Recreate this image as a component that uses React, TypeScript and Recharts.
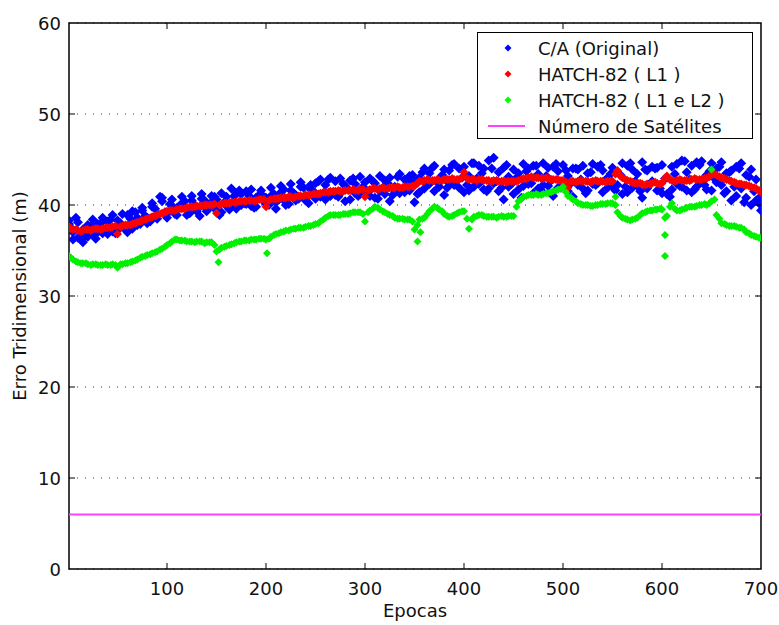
import React from 'react';
import { ScatterChart, Scatter, XAxis, YAxis, CartesianGrid, ReferenceArea, Legend } from 'recharts';

// ---------- data ----------
const EPOCHS = [1,5,10,15,20,25,30,35,40,45,50,55,60,65,70,75,80,85,90,95,100,105,110,115,120,125,130,135,140,145,150,155,160,165,170,175,180,185,190,195,200,205,210,215,220,225,230,235,240,245,250,255,260,265,270,275,280,285,290,295,300,305,310,315,320,325,330,335,340,345,350,355,360,365,370,375,380,385,390,395,400,405,410,415,420,425,430,435,440,445,450,455,460,465,470,475,480,485,490,495,500,505,510,515,520,525,530,535,540,545,550,555,560,565,570,575,580,585,590,595,600,605,610,615,620,625,630,635,640,645,650,655,660,665,670,675,680,685,690,695,700];
const EPOCHS_B = [3,8,13,18,23,28,33,38,43,48,53,58,63,68,73,78,83,88,93,98,103,108,113,118,123,128,133,138,143,148,153,158,163,168,173,178,183,188,193,198,203,208,213,218,223,228,233,238,243,248,253,258,263,268,273,278,283,288,293,298,303,308,313,318,323,328,333,338,343,348,353,358,363,368,373,378,383,388,393,398,403,408,413,418,423,428,433,438,443,448,453,458,463,468,473,478,483,488,493,498,503,508,513,518,523,528,533,538,543,548,553,558,563,568,573,578,583,588,593,598,603,608,613,618,623,628,633,638,643,648,653,658,663,668,673,678,683,688,693,698];

// C/A (Original)
const CA_A = [38.3,37.0,36.4,35.9,37.8,36.8,37.9,36.9,38.2,37.1,
38.3,37.6,38.9,37.4,38.6,39.4,38.0,39.8,38.5,40.8,
39.0,39.9,38.9,40.2,39.4,40.5,39.3,40.7,39.6,40.3,
40.6,39.2,40.9,39.8,41.3,40.0,41.5,39.9,40.8,41.2,
40.1,41.0,39.6,41.4,40.3,41.6,40.5,42.0,40.8,41.7,
42.4,40.9,42.2,41.0,42.6,41.3,42.1,40.6,42.3,41.2,
42.5,41.0,42.4,41.5,42.7,40.4,42.0,41.3,42.8,41.6,
40.3,43.0,41.8,43.5,41.5,42.9,41.1,43.8,42.2,44.0,
41.4,43.2,42.0,44.3,41.7,44.9,42.4,43.6,40.6,43.1,
41.2,43.5,42.1,44.0,41.3,43.4,42.2,44.1,41.0,43.7,
42.5,43.2,40.9,43.9,41.8,43.5,42.3,44.2,41.4,43.0,
42.0,43.6,41.2,44.3,41.9,43.4,40.8,43.8,42.6,44.1,
41.3,43.0,41.7,44.5,42.0,43.6,41.4,44.7,42.5,43.3,
41.6,44.0,42.2,43.5,40.5,44.2,41.8,43.3,40.0,42.8,
39.4];
const CA_B = [37.5,38.6,37.0,36.6,37.6,36.3,38.0,37.2,38.4,36.9,
38.0,37.3,38.5,39.2,37.9,38.8,38.2,39.6,40.9,39.2,
40.1,39.0,39.8,40.4,39.1,40.0,38.8,40.5,39.7,40.9,
38.9,40.3,39.5,41.0,41.6,40.2,41.0,39.7,41.1,40.4,
40.0,41.2,40.6,41.7,40.1,41.3,40.7,41.9,40.2,41.5,
42.6,41.2,42.8,41.4,40.9,42.3,41.7,42.9,41.0,42.0,
41.4,42.6,40.7,41.9,42.4,41.1,43.1,41.8,42.5,43.3,
41.2,43.6,42.3,44.1,42.5,43.3,41.9,44.4,42.7,43.0,
42.2,44.6,42.9,43.5,41.5,44.0,42.6,41.9,44.4,42.3,
43.0,40.8,43.7,42.4,44.3,41.6,43.2,42.7,44.5,41.9,
43.8,42.4,44.0,42.8,41.3,43.6,42.2,44.4,42.7,43.4,
41.6,43.3,42.0,44.6,42.6,41.5,43.9,42.3,44.0,41.8,
42.9,40.9,43.4,42.1,44.8,42.8,41.7,44.4,42.2,43.7,
42.9,44.2,41.3,43.6,42.0,44.0,40.3,43.1,41.5,40.2];
const CA_C = [37.9,36.2,38.1,37.3,36.5,38.4,37.0,38.6,36.8,38.9,
37.2,39.0,37.0,39.3,37.8,39.7,38.6,40.2,39.0,40.4,
38.6,40.6,39.7,40.9,38.9,41.0,39.5,41.2,39.3,41.0,
39.4,41.3,39.9,41.8,39.6,41.2,40.1,41.7,39.8,41.6,
40.8,41.9,40.3,42.1,40.0,42.3,41.1,42.5,40.5,42.2,
40.7,42.8,40.6,43.0,41.1,42.9,40.4,42.7,41.3,43.1,
41.1,42.9,40.8,43.2,41.2,43.0,41.6,43.4,41.4,43.2,
42.7,41.4,44.0,42.3,44.3,42.0,43.9,42.4,44.5,41.9,
44.2,41.6,44.6,42.3,44.0,41.8,45.2,41.5,44.1,42.0,
43.9,41.7,44.5,42.3,44.3,41.8,44.6,42.1,44.2,41.9,
44.4,41.5,44.0,42.2,44.3,41.6,44.5,42.4,43.8,41.9,
44.1,42.2,44.6,41.4,43.9,42.1,44.7,41.8,44.2,41.6,
44.4,41.2,44.2,42.3,44.9,41.6,44.3,42.0,44.8,41.7,
44.6,42.5,44.7,41.5,43.8,41.0,44.6,40.8,43.9,40.5,
41.0];

// HATCH-82 ( L1 )
const L1 = [37.6,37.3,37.2,37.2,37.3,37.3,37.4,37.4,37.5,37.6,
36.8,37.7,37.8,37.9,38.1,38.3,38.5,38.7,38.9,39.1,
39.3,39.4,39.5,39.6,39.7,39.8,39.9,39.9,40.0,40.0,
39.1,40.1,40.2,40.3,40.3,40.4,40.4,40.5,40.5,40.6,
39.8,40.6,40.7,40.8,40.8,40.9,40.9,41.0,41.1,41.1,
41.2,41.3,41.4,41.5,41.5,41.5,41.6,41.6,41.6,41.7,
40.9,41.7,41.8,41.8,41.8,41.9,41.9,41.9,42.0,42.0,
42.1,42.6,42.7,42.7,42.7,42.7,42.8,42.8,42.8,42.8,
43.6,42.8,42.8,42.8,42.7,42.7,42.7,42.6,42.6,42.6,
42.6,42.7,42.9,43.0,43.0,43.0,42.9,42.9,42.8,42.8,
42.7,41.9,42.6,42.6,42.6,42.6,42.6,42.6,42.6,42.6,
42.6,43.8,43.0,42.7,42.5,42.4,42.3,42.3,42.4,42.4,
42.4,43.2,42.7,42.7,42.7,42.7,42.8,42.8,42.8,42.9,
43.4,43.3,43.0,42.8,42.6,42.4,42.3,42.2,42.0,41.8,
41.4];
const L1_B = [37.4,37.3,37.1,37.3,37.2,37.4,37.3,37.5,37.5,37.7,
37.6,37.8,37.8,38.0,38.2,38.4,38.6,38.8,39.0,39.2,
39.4,39.4,39.6,39.6,39.8,39.8,39.9,40.0,40.0,40.1,
40.0,40.2,40.2,40.3,40.4,40.4,40.5,40.4,40.6,40.6,
40.5,40.7,40.7,40.8,40.9,40.8,41.0,41.0,41.1,41.2,
41.2,41.4,41.4,41.5,41.6,41.5,41.6,41.7,41.6,41.7,
41.6,41.8,41.7,41.9,41.8,41.9,42.0,41.9,42.0,42.1,
42.4,42.6,42.8,42.7,42.8,42.7,42.8,42.9,42.8,43.0,
42.9,42.8,42.7,42.8,42.7,42.6,42.7,42.6,42.5,42.6,
42.6,42.8,42.9,43.1,43.0,42.9,43.0,42.8,42.8,42.7,
42.5,42.6,42.5,42.7,42.6,42.5,42.7,42.6,42.5,42.6,
43.4,43.2,42.8,42.6,42.4,42.4,42.2,42.3,42.5,42.3,
42.9,42.8,42.6,42.8,42.7,42.7,42.9,42.8,42.9,43.1,
43.4,43.1,42.9,42.7,42.5,42.3,42.2,42.1,41.9,41.6];

// HATCH-82 ( L1 e L2 )
const L1L2 = [34.4,34.0,33.7,33.6,33.5,33.5,33.4,33.4,33.4,33.5,
33.1,33.5,33.6,33.8,34.0,34.3,34.5,34.7,34.9,35.2,
35.6,36.0,36.2,36.1,36.0,36.0,36.0,36.0,35.9,35.9,
34.9,35.3,35.5,35.7,35.9,36.0,36.1,36.2,36.2,36.3,
36.2,36.5,36.8,37.0,37.2,37.3,37.4,37.5,37.6,37.7,
37.9,38.2,38.6,38.9,38.9,38.9,39.0,39.1,39.2,39.2,
38.2,39.4,39.8,39.5,39.2,38.9,38.6,38.5,38.4,38.4,
37.3,38.4,38.6,39.3,39.8,39.5,39.0,38.7,38.9,39.2,
39.3,37.4,38.7,38.9,38.8,38.7,38.7,38.7,38.7,38.8,
38.8,40.4,40.9,41.1,41.1,41.1,41.2,41.3,41.5,41.7,
42.0,41.0,40.6,40.2,40.0,40.0,39.9,40.0,40.1,40.2,
40.2,39.2,38.6,38.4,38.4,38.6,39.1,39.3,39.4,39.5,
39.5,38.8,40.2,39.4,39.5,39.7,39.8,39.9,40.0,40.0,
40.4,38.9,38.0,37.8,37.7,37.6,37.5,37.0,36.7,36.5,
36.4];
const L1L2_B = [34.2,33.8,33.6,33.6,33.4,33.5,33.4,33.5,33.4,33.4,
33.5,33.6,33.7,33.9,34.2,34.4,34.6,34.8,35.1,35.4,
35.8,36.2,36.1,36.1,36.0,35.9,36.0,35.8,35.9,35.6,
35.1,35.4,35.6,35.8,36.0,36.1,36.1,36.2,36.3,36.3,
36.3,36.7,36.9,37.1,37.2,37.4,37.5,37.5,37.7,37.8,
38.0,38.4,38.8,38.9,38.9,39.0,39.0,39.2,39.2,39.0,
39.2,39.6,39.7,39.3,39.0,38.8,38.5,38.5,38.4,38.2,
37.8,38.5,39.0,39.6,39.7,39.3,38.8,38.8,39.1,39.3,
38.5,38.4,38.8,38.9,38.7,38.7,38.6,38.8,38.7,38.8,
39.8,40.7,41.0,41.1,41.2,41.1,41.3,41.4,41.6,41.8,
41.4,40.8,40.4,40.1,40.0,39.9,40.0,40.1,40.1,40.2,
40.0,38.8,38.5,38.3,38.5,38.9,39.2,39.4,39.5,39.6,
38.6,39.8,39.6,39.4,39.6,39.8,39.8,40.0,40.1,40.2,
40.6,38.5,37.9,37.7,37.7,37.5,37.3,36.9,36.6,36.4];
const L1L2_EXTRA_EPOCHS = [152, 201, 353, 356, 553, 603, 603, 650];
const L1L2_EXTRA = [33.7, 34.7, 36.0, 37.0, 40.9, 36.7, 34.4, 43.9];

// Número de Satélites
const SAT_EPOCHS = [1, 700];
const SAT = [6, 6];

const X_TICKS = [100, 200, 300, 400, 500, 600, 700];
const Y_TICKS = [0, 10, 20, 30, 40, 50, 60];

// ---------- build ----------
const pairs = (xs: number[], ys: number[]) => xs.map((x, i) => ({ x, y: ys[i] }));
const caData = [...pairs(EPOCHS, CA_A), ...pairs(EPOCHS_B, CA_B), ...pairs(EPOCHS, CA_C)];
const l1Data = [...pairs(EPOCHS, L1), ...pairs(EPOCHS_B, L1_B)];
const l1l2Data = [...pairs(EPOCHS, L1L2), ...pairs(EPOCHS_B, L1L2_B), ...pairs(L1L2_EXTRA_EPOCHS, L1L2_EXTRA)];
const satData = pairs(SAT_EPOCHS, SAT);

// ---------- layout ----------
const W = 779, H = 625;
const PLOT_W = 692, PLOT_H = 546;
const FONT = "'DejaVu Sans', sans-serif";
const FS = 18;
const TICK_LEN = 6;

const diamond = (fill: string, r: number) => (props: any) => {
  const { cx, cy } = props;
  if (cx == null || cy == null) return <g />;
  return <polygon points={`${cx},${cy - r} ${cx + r},${cy} ${cx},${cy + r} ${cx - r},${cy}`} fill={fill} />;
};
const noShape = () => <g />;

const XTick = (props: any) => {
  const { x, y, payload } = props;
  const edge = payload.value === 700;
  return (
    <g>
      {!edge && <line x1={x} y1={y} x2={x} y2={y - TICK_LEN} stroke="#000" />}
      {!edge && <line x1={x} y1={y - PLOT_H} x2={x} y2={y - PLOT_H + TICK_LEN} stroke="#000" />}
      <text x={x} y={y + 26} textAnchor="middle" fontSize={FS} fontFamily={FONT} fill="#111">{payload.value}</text>
    </g>
  );
};

const YTick = (props: any) => {
  const { x, y, payload } = props;
  const edge = payload.value === 0 || payload.value === 60;
  return (
    <g>
      {!edge && <line x1={x} y1={y} x2={x + TICK_LEN} y2={y} stroke="#000" />}
      {!edge && <line x1={x + PLOT_W} y1={y} x2={x + PLOT_W - TICK_LEN} y2={y} stroke="#000" />}
      <text x={x - 8} y={y + 6.5} textAnchor="end" fontSize={FS} fontFamily={FONT} fill="#111">{payload.value}</text>
    </g>
  );
};

const XLabel = (props: any) => {
  const vb = props.viewBox || {};
  return (
    <text x={vb.x + vb.width / 2} y={vb.y + 48} textAnchor="middle" fontSize={FS} fontFamily={FONT} fill="#111">Epocas</text>
  );
};

const YLabel = (props: any) => {
  const vb = props.viewBox || {};
  const cx = 26;
  const cy = vb.y + vb.height / 2;
  return (
    <text x={cx} y={cy} transform={`rotate(-90, ${cx}, ${cy})`} textAnchor="middle" fontSize={FS} fontFamily={FONT} fill="#111">Erro Tridimensional (m)</text>
  );
};

const LegendBox = (props: any) => {
  const payload = props.payload || [];
  return (
    <svg width={276} height={107} style={{ display: 'block' }}>
      <rect x={0.5} y={0.5} width={275} height={106} fill="#fff" stroke="#000" />
      {payload.map((e: any, i: number) => {
        const cy = 16 + i * 26;
        const r = 3.5;
        return (
          <g key={i}>
            {e.type === 'line'
              ? <line x1={11} x2={48} y1={cy} y2={cy} stroke={e.color} strokeWidth={2} />
              : <polygon points={`31,${cy - r} ${31 + r},${cy} 31,${cy + r} ${31 - r},${cy}`} fill={e.color} />}
            <text x={61} y={cy + 6.5} fontSize={FS} fontFamily={FONT} fill="#111">{e.value}</text>
          </g>
        );
      })}
    </svg>
  );
};

export default function App() {
  return (
    <div style={{ position: 'absolute', left: 0, top: 0, width: W, height: H, background: '#fff' }}>
      <ScatterChart width={W} height={H} margin={{ top: 23, right: 18, bottom: 0, left: 0 }}>
        <CartesianGrid vertical={false} stroke="#333" strokeDasharray="1 7" />
        <XAxis
          type="number"
          dataKey="x"
          domain={[1, 700]}
          ticks={X_TICKS}
          interval={0}
          allowDataOverflow
          height={56}
          tickSize={0}
          tickMargin={0}
          axisLine={false}
          tickLine={false}
          tick={XTick}
          label={XLabel}
        />
        <YAxis
          type="number"
          dataKey="y"
          domain={[0, 60]}
          ticks={Y_TICKS}
          interval={0}
          allowDataOverflow
          width={69}
          tickSize={0}
          tickMargin={0}
          axisLine={false}
          tickLine={false}
          tick={YTick}
          label={YLabel}
        />
        <Scatter name="C/A (Original)" data={caData} fill="#0000ff" legendType="diamond" shape={diamond('#0000ff', 5)} isAnimationActive={false} />
        <Scatter name="HATCH-82 ( L1 )" data={l1Data} fill="#ff0000" legendType="diamond" shape={diamond('#ff0000', 4.5)} isAnimationActive={false} />
        <Scatter name="HATCH-82 ( L1 e L2 )" data={l1l2Data} fill="#00ff00" legendType="diamond" shape={diamond('#00f000', 4)} isAnimationActive={false} />
        <Scatter name="Número de Satélites" data={satData} fill="#ff40ff" legendType="line" line={{ stroke: '#ff40ff', strokeWidth: 2 }} shape={noShape} isAnimationActive={false} />
        <ReferenceArea x1={1} x2={700} y1={0} y2={60} fill="none" stroke="#000" strokeWidth={1.5} ifOverflow="visible" />
        <Legend
          layout="horizontal"
          verticalAlign="middle"
          align="center"
          content={LegendBox}
          wrapperStyle={{ position: 'absolute', left: 477, top: 32, width: 276, height: 107 }}
        />
      </ScatterChart>
    </div>
  );
}
